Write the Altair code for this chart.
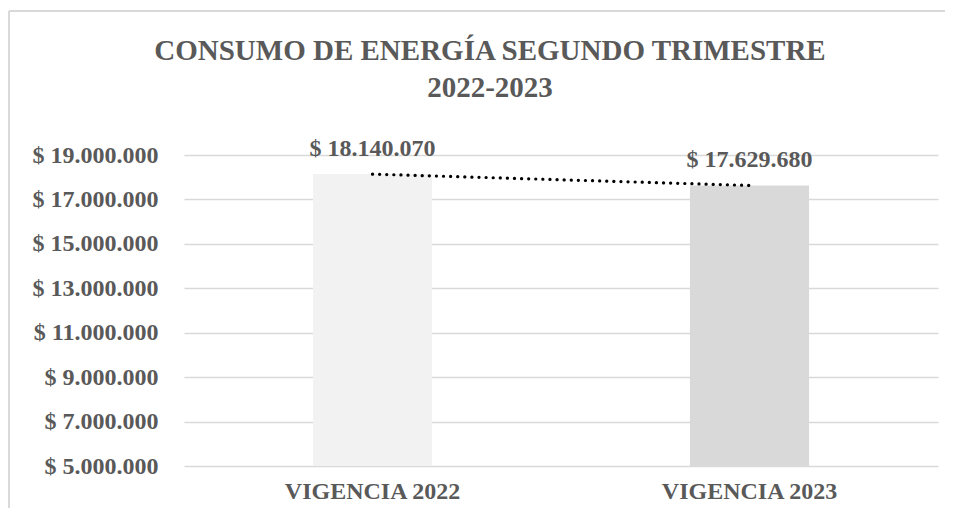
import altair as alt
import pandas as pd

categories = ["VIGENCIA 2022", "VIGENCIA 2023"]
values = [18140070, 17629680]
bar_colors = ["#F2F2F2", "#D9D9D9"]
y_ticks = [5000000, 7000000, 9000000, 11000000, 13000000, 15000000, 17000000, 19000000]
title_lines = ["CONSUMO DE ENERGÍA SEGUNDO TRIMESTRE", "2022-2023"]


def fmt(v):
    return "$ " + f"{v:,}".replace(",", ".")


df = pd.DataFrame({"cat": categories, "value": values, "label": [fmt(v) for v in values]})

FONT = "Liberation Serif"
TXT = "#595959"

x = alt.X(
    "cat:N",
    sort=categories,
    scale=alt.Scale(paddingInner=0.684, paddingOuter=0.342),
    axis=alt.Axis(
        title=None, labelAngle=0, labelFont=FONT, labelFontSize=24, labelFontWeight="bold",
        labelColor=TXT, domain=False, ticks=False, labelPadding=13,
    ),
)
y = alt.Y(
    "value:Q",
    scale=alt.Scale(domain=[y_ticks[0], y_ticks[-1]], nice=False, zero=False),
    axis=alt.Axis(
        title=None, values=y_ticks, grid=True, gridColor="#D9D9D9", gridWidth=1.5,
        domain=False, ticks=False, labelPadding=26, labelFont=FONT, labelFontSize=24,
        labelFontWeight="bold", labelColor=TXT,
        labelExpr="'$ ' + join(split(format(datum.value, ','), ','), '.')",
    ),
)

base = alt.Chart(df)

bars = base.mark_bar(clip=True).encode(
    x=x, y=y,
    color=alt.Color("cat:N", sort=categories, scale=alt.Scale(domain=categories, range=bar_colors), legend=None),
)

labels = base.mark_text(
    baseline="alphabetic", dy=-18, font=FONT, fontSize=24, fontWeight="bold", color=TXT
).encode(x=alt.X("cat:N", sort=categories), y="value:Q", text="label:N")

trend = base.mark_line(
    color="black", strokeDash=[0.1, 7], strokeCap="round", strokeWidth=3.2
).encode(x=alt.X("cat:N", sort=categories), y="value:Q")

frame_left = alt.Chart(df).mark_rule(color="#D9D9D9", strokeWidth=2).encode(
    x=alt.value(-175), y=alt.value(-144), y2=alt.value(420)
)
frame_top = alt.Chart(df).mark_rule(color="#D9D9D9", strokeWidth=2).encode(
    x=alt.value(-175), x2=alt.value(800), y=alt.value(-144)
)

chart = alt.layer(frame_left, frame_top, bars, trend, labels).properties(
    width=754,
    height=311,
    padding={"left": 176, "top": 147, "right": 7, "bottom": 42},
    autosize=alt.AutoSizeParams(type="none"),
    title=alt.TitleParams(
        title_lines, font=FONT, fontSize=29, fontWeight="bold", color=TXT,
        anchor="middle", dx=-71, offset=-93, lineHeight=37,
    ),
).configure_view(stroke=None)

chart.save("out.html", embed_options={"renderer": "svg", "actions": False})
